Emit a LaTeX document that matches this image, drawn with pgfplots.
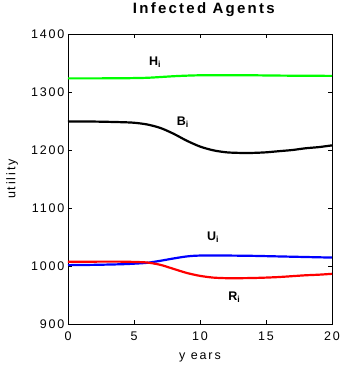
\documentclass[border=0pt]{standalone}
\usepackage{fontspec}
\setmainfont{Liberation Sans}[LetterSpace=15]
\usepackage{pgfplots}
\pgfplotsset{compat=1.18}
\begin{document}
\begin{tikzpicture}
\useasboundingbox (-68pt,-43pt) rectangle (275pt,324pt);
\begin{axis}[
  at={(0,0)}, anchor=south west,
  scale only axis, width=264pt, height=290pt,
  xmin=0, xmax=20, ymin=900, ymax=1400,
  xtick={0,5,10,15,20}, ytick={900,1000,1100,1200,1300,1400},
  tick align=inside, major tick length=4pt,
  tick style={black, line width=0.6pt},
  axis line style={black, line width=0.8pt},
  /pgf/number format/assume math mode=true,
  /pgf/number format/1000 sep={},
  tick label style={font=\fontsize{12.5}{14}\selectfont},
  xticklabel style={yshift=-4pt},
  title={\textbf{Infected Agents}},
  title style={font=\fontsize{15}{17}\selectfont, at={(axis description cs:0.5,1)}, anchor=center, yshift=18.5pt, xshift=5pt},
  xlabel={y ears}, ylabel={utility},
  label style={font=\fontsize{12.5}{14}\selectfont},
  xlabel style={at={(axis description cs:0.5,0)}, anchor=center, yshift=-33pt},
  ylabel style={at={(axis description cs:-0.212,0.5)}, anchor=center},
  clip=false,
]
\addplot[color={rgb,255:red,0;green,255;blue,0}, line width=2.2pt, smooth] coordinates {
(0,1323.5) (2,1323.5) (4,1323.7) (5,1324) (6,1324.5) (7,1325.8) (8,1327.2) (9,1328.2) (10,1328.8) (12,1329) (14,1328.8) (16,1328.3) (18,1328) (20,1327.8)};
\addplot[black, line width=2.2pt, smooth] coordinates {
(0,1249) (2,1249) (4,1248) (5,1247) (6,1244) (7,1238) (8,1228) (9,1216) (10,1206) (11,1199.5) (12,1196) (13,1195) (14,1195) (15,1196) (16,1198) (17,1200) (18,1203) (19,1205) (20,1208)};
\addplot[blue, line width=2.2pt, smooth] coordinates {
(0,1001.5) (2,1002) (4,1003) (5,1004) (6,1005.5) (7,1009) (8,1013) (9,1016.5) (10,1018) (12,1018) (14,1017.5) (16,1016.5) (18,1015.5) (20,1014.5)};
\addplot[red, line width=2.2pt, smooth] coordinates {
(0,1007.5) (2,1007.5) (4,1007.5) (5,1007) (6,1006) (7,1002) (8,995) (9,988) (10,983) (11,980) (12,979) (13,979) (14,979.3) (15,980) (16,981) (17,982.5) (18,984) (19,985) (20,986.5)};
\node[font=\fontsize{12.5}{14}\selectfont\bfseries] at (axis cs:6.6,1352) {H\textsubscript{i}};
\node[font=\fontsize{12.5}{14}\selectfont\bfseries] at (axis cs:8.7,1248) {B\textsubscript{i}};
\node[font=\fontsize{12.5}{14}\selectfont\bfseries] at (axis cs:11.0,1050) {U\textsubscript{i}};
\node[font=\fontsize{12.5}{14}\selectfont\bfseries] at (axis cs:12.6,946) {R\textsubscript{i}};
\end{axis}
\end{tikzpicture}
\end{document}
